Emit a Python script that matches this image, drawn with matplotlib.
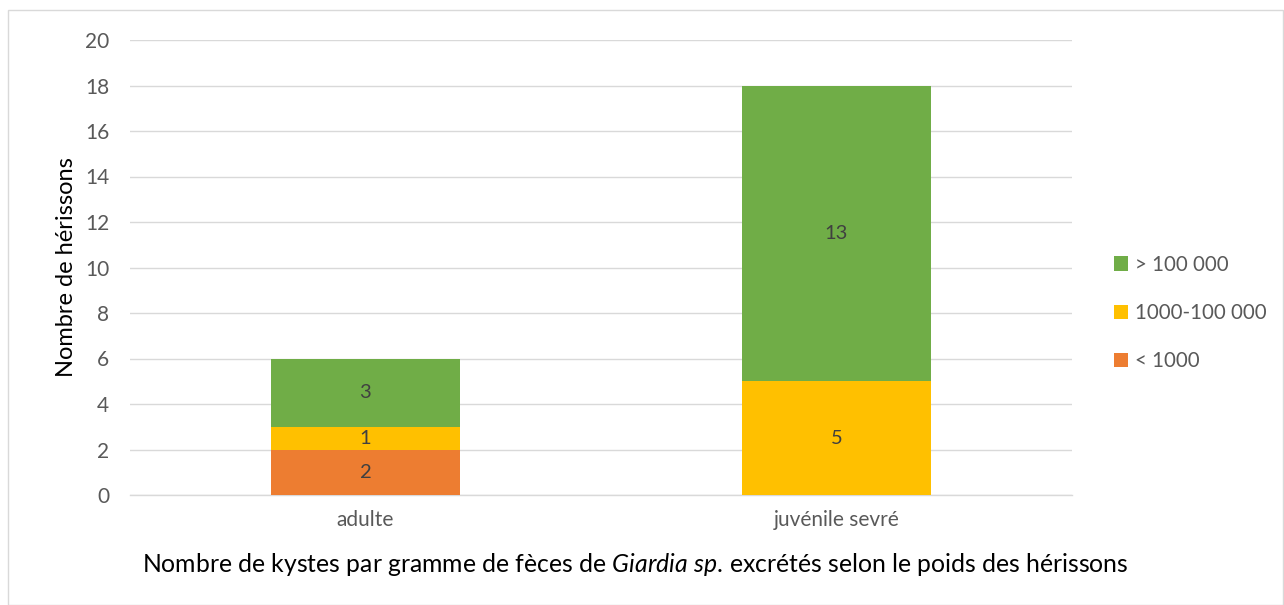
import matplotlib
matplotlib.use("Agg")
import matplotlib.pyplot as plt
from matplotlib.patches import Rectangle

categories = ["adulte", "juvénile sevré"]
series_names = ["< 1000", "1000-100 000", "> 100 000"]
low = [2, 0]
mid = [1, 5]
high = [3, 13]
colors = ["#ED7D31", "#FFC000", "#70AD47"]
yticks = [0, 2, 4, 6, 8, 10, 12, 14, 16, 18, 20]

plt.rcParams['font.family'] = ['Lato', 'DejaVu Sans']
plt.rcParams['mathtext.fontset'] = 'custom'
plt.rcParams['mathtext.it'] = 'Lato:italic'
plt.rcParams['mathtext.rm'] = 'Lato'

fig = plt.figure(figsize=(12.84, 6.05), dpi=100)
fig.patches.append(Rectangle((8/1284, 0.0), 1 - 9/1284, 1 - 10/605, transform=fig.transFigure,
                             fill=False, edgecolor="#D9D9D9", linewidth=1.0))
ax = fig.add_axes([130/1284, 1 - 495/605, (1072 - 130)/1284, (495 - 40)/605])

x = list(range(len(categories)))
bottoms = [0] * len(categories)
bars = []
for name, vals, c in zip(series_names, [low, mid, high], colors):
    b = ax.bar(x, vals, 0.4, bottom=bottoms, color=c, label=name, zorder=3)
    for xi, v, bt in zip(x, vals, bottoms):
        if v > 0:
            ax.text(xi, bt + v / 2, str(v), ha="center", va="center",
                    fontsize=14.5, color="#404040", zorder=4)
    bars.append(b)
    bottoms = [bt + v for bt, v in zip(bottoms, vals)]

ax.set_xlim(-0.5, 1.5)
ax.set_ylim(0, 20)
ax.set_yticks(yticks)
ax.yaxis.grid(True, color="#D9D9D9", linewidth=1.0, zorder=0)
for s in ["top", "right", "left"]:
    ax.spines[s].set_visible(False)
ax.spines["bottom"].set_color("#D9D9D9")
ax.spines["bottom"].set_linewidth(1.0)
ax.tick_params(axis="both", length=0, labelsize=15, colors="#595959")
ax.set_xticks(x)
ax.set_xticklabels(categories)
ax.tick_params(axis="x", pad=11)
ax.tick_params(axis="y", pad=15)

ax.set_ylabel("Nombre de hérissons", fontsize=17, color="#000000", labelpad=6)
fig.text(635/1284, 1 - 565/605,
         "Nombre de kystes par gramme de fèces de $\\it{Giardia\\ sp.}\\,$excrétés selon le poids des hérissons",
         ha="center", va="center", fontsize=17.8, color="#000000")

handles = [bars[2], bars[1], bars[0]]
leg = fig.legend(handles, [series_names[2], series_names[1], series_names[0]],
                 loc="center left", bbox_to_anchor=(1095/1284, 1 - 313/605),
                 frameon=False, fontsize=14.8, handlelength=0.7, handleheight=0.7,
                 handletextpad=0.35, labelspacing=1.38, labelcolor="#595959")

fig.savefig("out.png", dpi=100)
